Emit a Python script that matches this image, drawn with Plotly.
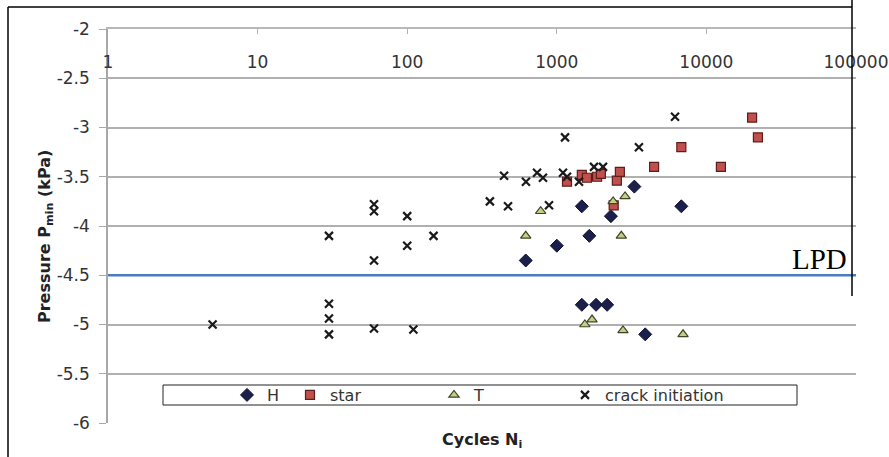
import plotly.graph_objects as go

# ---------------- data ----------------
h_x = [620, 1000, 1470, 1650, 2300, 3300, 6800, 1470, 1830, 2170, 3900]
h_y = [-4.35, -4.2, -3.8, -4.1, -3.9, -3.6, -3.8, -4.8, -4.8, -4.8, -5.1]

star_x = [1170, 1470, 1590, 1860, 1970, 2400, 2520, 2640, 4470, 6800, 12500, 20200, 22100]
star_y = [-3.55, -3.48, -3.51, -3.5, -3.47, -3.79, -3.54, -3.45, -3.4, -3.2, -3.4, -2.9, -3.1]

t_x = [620, 780, 2380, 2860, 2700, 1540, 1720, 2770, 6980]
t_y = [-4.1, -3.85, -3.75, -3.7, -4.1, -5.0, -4.95, -5.06, -5.1]

crack_x = [5, 30, 30, 30, 30, 60, 60, 60, 60, 100, 100, 110, 150,
           357, 444, 472, 622, 738, 808, 887, 1100, 1135, 1170, 1407,
           1773, 2036, 3540, 6170]
crack_y = [-5.0, -4.1, -4.79, -4.94, -5.1, -3.78, -3.85, -4.35, -5.04,
           -3.9, -4.2, -5.05, -4.1,
           -3.75, -3.49, -3.8, -3.55, -3.46, -3.51, -3.79, -3.46, -3.1,
           -3.5, -3.55, -3.4, -3.4, -3.2, -2.89]

lpd_x = [1, 100000]
lpd_y = [-4.5, -4.5]

x_tickvals = [1, 10, 100, 1000, 10000, 100000]
x_ticktext = ["1", "10", "100", "1000", "10000", "100000"]
y_tickvals = [-2, -2.5, -3, -3.5, -4, -4.5, -5, -5.5, -6]
y_ticktext = ["-2", "-2.5", "-3", "-3.5", "-4", "-4.5", "-5", "-5.5", "-6"]

FONT = "DejaVu Sans"
TXT = "#333333"

fig = go.Figure()

fig.add_trace(go.Scatter(x=lpd_x, y=lpd_y, mode="lines", xaxis="x2",
                         line=dict(color="#4a7ebb", width=2.5),
                         showlegend=False, hoverinfo="skip"))

fig.add_trace(go.Scatter(x=h_x, y=h_y, mode="markers", name="H",
                         marker=dict(symbol="diamond", size=10, color="#1c1f4c",
                                     line=dict(color="#10122e", width=1)),
                         legend="legend"))
fig.add_trace(go.Scatter(x=star_x, y=star_y, mode="markers", name="star",
                         marker=dict(symbol="square", size=9, color="#c0504d",
                                     line=dict(color="#5e1c1a", width=1.2)),
                         legend="legend2"))
fig.add_trace(go.Scatter(x=t_x, y=t_y, mode="markers", name="T",
                         marker=dict(symbol="triangle-up", size=9, color="#c6cc8c",
                                     line=dict(color="#3f4522", width=1.2)),
                         legend="legend3"))
fig.add_trace(go.Scatter(x=crack_x, y=crack_y, mode="markers", name="crack initiation",
                         marker=dict(symbol="x-thin", size=8, color="#1a1a1a",
                                     line=dict(color="#1a1a1a", width=2.2)),
                         legend="legend4"))

W, H = 889, 457
L, R, T, B = 108, 889 - 856, 29, 457 - 423
PW, PH = W - L - R, H - T - B


def px(xp):
    return (xp - L) / PW


def py(yp):
    return (H - B - yp) / PH


leg_common = dict(orientation="h", yanchor="middle", xanchor="left",
                  bgcolor="rgba(0,0,0,0)", borderwidth=0,
                  font=dict(family=FONT, size=16, color=TXT))
leg_y = py(395)

fig.update_layout(
    width=W, height=H,
    margin=dict(l=L, r=R, t=T, b=B, autoexpand=False),
    paper_bgcolor="white", plot_bgcolor="white",
    font=dict(family=FONT, size=17, color=TXT),
    legend=dict(x=px(227), y=leg_y, **leg_common),
    legend2=dict(x=px(290), y=leg_y, **leg_common),
    legend3=dict(x=px(434), y=leg_y, **leg_common),
    legend4=dict(x=px(565), y=leg_y, **leg_common),
    xaxis=dict(type="log", range=[0, 5], side="top", automargin=False,
               tickvals=x_tickvals, showticklabels=False,
               ticks="inside", ticklen=5, tickcolor="#b0b0b0",
               showline=True, linecolor="#b8b8b8", linewidth=1.5,
               showgrid=False, zeroline=False),
    xaxis2=dict(type="log", range=[0, 5], overlaying="x", side="bottom",
                anchor="free", position=py(50), automargin=False,
                tickvals=x_tickvals, ticktext=x_ticktext,
                ticks="", showline=False, showgrid=False, zeroline=False,
                tickfont=dict(family=FONT, size=17, color=TXT)),
    yaxis=dict(range=[-6, -2], tickvals=y_tickvals, ticktext=y_ticktext,
               automargin=False,
               ticks="outside", ticklen=7, tickcolor="#a8a8a8",
               ticklabelstandoff=6,
               showline=True, linecolor="#a8a8a8", linewidth=1.5,
               showgrid=True, gridcolor="#b0b0b0", gridwidth=1.5,
               zeroline=False,
               tickfont=dict(family=FONT, size=17, color=TXT)),
    shapes=[
        # legend box
        dict(type="rect", xref="paper", yref="paper",
             x0=px(163), x1=px(797), y0=py(405), y1=py(385),
             line=dict(color="#222222", width=1), fillcolor="white", layer="below"),
        # outer frame pieces
        dict(type="line", xref="paper", yref="paper",
             x0=px(8), x1=px(8), y0=py(457), y1=py(7),
             line=dict(color="black", width=1.5)),
        dict(type="line", xref="paper", yref="paper",
             x0=px(8), x1=px(852), y0=py(7), y1=py(7),
             line=dict(color="black", width=1.5)),
        dict(type="line", xref="paper", yref="paper",
             x0=px(852), x1=px(852), y0=py(0), y1=py(296),
             line=dict(color="black", width=1.5)),
    ],
    annotations=[
        dict(text="Pressure P<sub>min</sub> (kPa)", xref="paper", yref="paper",
             x=px(45), y=py(237), textangle=-90, showarrow=False,
             xanchor="center", yanchor="middle",
             font=dict(family=FONT, size=16, color="#222222", weight="bold")),
        dict(text="Cycles N<sub>i</sub>", xref="paper", yref="paper",
             x=px(482), y=py(440), showarrow=False,
             xanchor="center", yanchor="middle",
             font=dict(family=FONT, size=16, color="#222222", weight="bold")),
        dict(text="LPD", xref="paper", yref="paper",
             x=px(849), y=py(259), showarrow=False,
             xanchor="right", yanchor="middle",
             font=dict(family="Liberation Serif", size=29, color="black")),
    ],
)

fig.write_html("out.html")
